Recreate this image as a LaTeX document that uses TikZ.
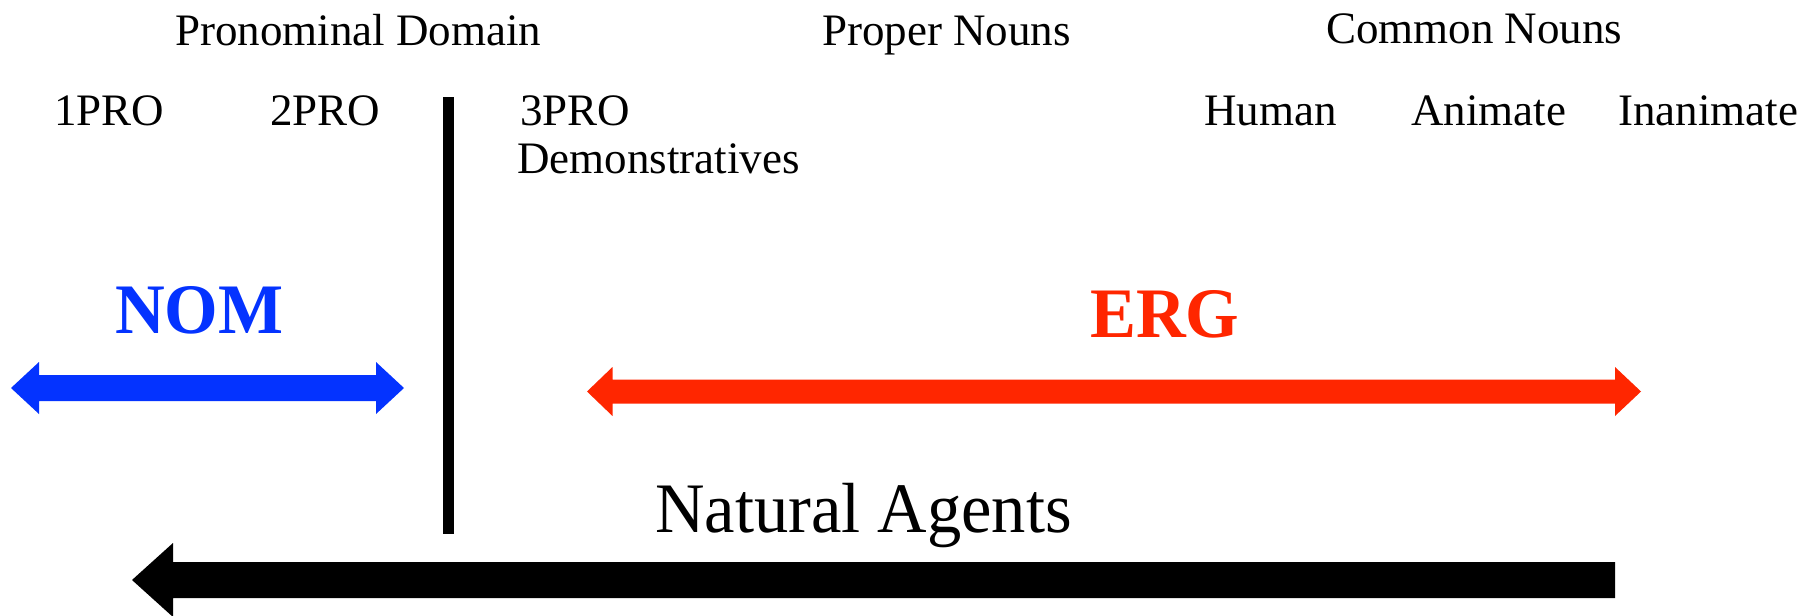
\documentclass[tikz,border=0pt]{standalone}
\usepackage{fontspec}
\setmainfont{Liberation Serif}
\usetikzlibrary{calc}
\definecolor{nomblue}{RGB}{4,51,255}
\definecolor{ergred}{RGB}{255,38,0}
\begin{document}
\begin{tikzpicture}[x=1pt,y=-1pt,
  lbl/.style={inner sep=0pt,anchor=base west,font=\fontsize{45}{54}\selectfont},
  biglbl/.style={inner sep=0pt,anchor=base west,font=\fontsize{71}{84}\selectfont},
  caselbl/.style={inner sep=0pt,anchor=base west,font=\fontsize{71}{84}\selectfont\bfseries}]
\useasboundingbox (0,0) rectangle (1808,616);
\fill[white] (0,0) rectangle (1808,616);
% header labels
\node[lbl] (pron) at (175,45) {Pronominal Domain};
\node[lbl] (proper) at (822,45) {Proper Nouns};
\node[lbl] (common) at (1326,43) {Common Nouns};
\node[lbl] (p1) at (54,125) {1PRO};
\node[lbl] (p2) at (270,125) {2PRO};
\node[lbl] (p3) at (520,125) {3PRO};
\node[lbl] (dem) at (517,173) {Demonstratives};
\node[lbl] (hum) at (1204,125) {Human};
\node[lbl] (anim) at (1411,125) {Animate};
\node[lbl] (inan) at (1618,125) {Inanimate};
% case labels
\node[caselbl,text=nomblue,xscale=0.97,transform shape] (nom) at (115,333) {NOM};
\node[caselbl,text=ergred,xscale=0.97,transform shape] (erg) at (1090,337) {ERG};
\node[biglbl,xscale=0.965,transform shape] (nat) at (655,532) {Natural Agents};
% vertical divider
\coordinate (vtop) at (448.5,97);
\coordinate (vbot) at (448.5,534);
\fill[black] ($(vtop)+(-5.5,0)$) rectangle ($(vbot)+(5.5,0)$);
% blue double arrow
\coordinate (bl) at (11,388);
\coordinate (br) at (404,388);
\fill[nomblue] (bl) -- (39,362) -- (39,375) -- (376,375) -- (376,362) -- (br)
  -- (376,414) -- (376,401) -- (39,401) -- (39,414) -- cycle;
% red double arrow
\coordinate (rl) at (587,391.5);
\coordinate (rr) at (1641,391.5);
\fill[ergred] (rl) -- (612.5,367) -- (612.5,379.5) -- (1615,379.5) -- (1615,367) -- (rr)
  -- (1615,416) -- (1615,403.5) -- (612.5,403.5) -- (612.5,416) -- cycle;
% black arrow
\coordinate (kl) at (132,580);
\coordinate (kr) at (1615,580);
\fill[black] (kl) -- (173,543) -- (173,562) -- (1615,562) -- (1615,598) -- (173,598)
  -- (173,617) -- cycle;
\end{tikzpicture}
\end{document}
